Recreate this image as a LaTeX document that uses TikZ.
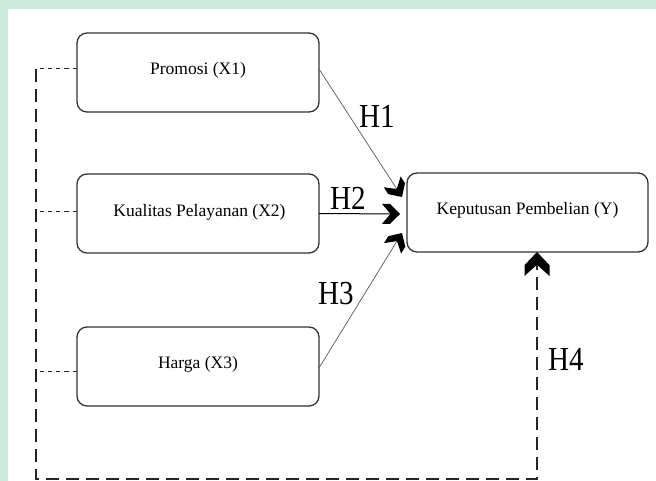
\documentclass[tikz,border=0pt]{standalone}
\usepackage{fontspec}
\setmainfont{Liberation Serif}
\usetikzlibrary{arrows.meta,calc}
\definecolor{mint}{HTML}{CDEBDD}
\pgfdeclarearrow{
  name = Chev,
  parameters = {\the\pgfarrowlength,\the\pgfarrowwidth},
  setup code = {
    \pgfarrowssettipend{0pt}
    \pgfarrowssetlineend{-.5\pgfarrowlength}
    \pgfarrowssetbackend{-\pgfarrowlength}
    \pgfarrowssavethe\pgfarrowlength
    \pgfarrowssavethe\pgfarrowwidth
  },
  drawing code = {
    \pgfpathmoveto{\pgfpoint{0pt}{0pt}}
    \pgfpathlineto{\pgfpoint{-.55\pgfarrowlength}{.5\pgfarrowwidth}}
    \pgfpathlineto{\pgfpoint{-\pgfarrowlength}{.5\pgfarrowwidth}}
    \pgfpathlineto{\pgfpoint{-.53\pgfarrowlength}{0pt}}
    \pgfpathlineto{\pgfpoint{-\pgfarrowlength}{-.5\pgfarrowwidth}}
    \pgfpathlineto{\pgfpoint{-.55\pgfarrowlength}{-.5\pgfarrowwidth}}
    \pgfpathclose
    \pgfusepathqfill
  },
  defaults = {length = 17pt, width = 19pt}
}
\begin{document}
\begin{tikzpicture}[x=1pt,y=-1pt,
  boxnode/.style={draw=black!80,line width=1.3pt,rounded corners=10pt,
    minimum width=242pt,minimum height=79pt,inner sep=0pt,outer sep=0pt},
  boxtext/.style={anchor=base,inner sep=0pt,font=\fontsize{17.5}{20}\selectfont},
  hlabel/.style={inner sep=0pt,font=\fontsize{30}{32}\selectfont},
  thinarrow/.style={draw=black!65,line width=0.7pt,-{Chev[length=18pt,width=20pt,color=black]}},
  shortdash/.style={draw=black!85,line width=1pt,dash pattern=on 4.3pt off 4pt},
  longdash/.style={draw=black!85,line width=1.6pt,dash pattern=on 13pt off 7pt}
]
\useasboundingbox (0,0) rectangle (656,481);
\fill[mint] (0,0) rectangle (656,481);
\fill[white] (8,9) rectangle (656,481);

% boxes
\node[boxnode] (x1) at (198,72.5) {};
\node[boxnode] (x2) at (198,213.5) {};
\node[boxnode] (x3) at (198,366.5) {};
\node[boxnode,minimum width=241pt] (y) at (527.5,212.5) {};

\node[boxtext] (t1) at (198,74.3) {Promosi (X1)};
\node[boxtext] (t2) at (199.5,216.3) {Kualitas Pelayanan (X2)};
\node[boxtext] (t3) at (198,368) {Harga (X3)};
\node[boxtext] (ty) at (527.5,215) {Keputusan Pembelian (Y)};

% arrow targets
\coordinate (e1) at ($(y.west)+(-5,-15.5)$);
\coordinate (e2) at ($(y.west)+(-7,1.5)$);
\coordinate (e3) at ($(y.west)+(-5,20.5)$);

\draw[thinarrow] ([yshift=3.5pt]x1.east) -- (e1);
\draw[thinarrow,draw=black,line width=1pt] (x2.east) -- (e2);
\draw[thinarrow] ([yshift=-1.5pt]x3.east) -- (e3);

% hypothesis labels
\node[hlabel] (h1) at (377,116.5) {\scalebox{0.97}[1.12]{H1}};
\node[hlabel] (h2) at (348,198.5) {\scalebox{0.97}[1.12]{H2}};
\node[hlabel] (h3) at (336,294) {\scalebox{0.97}[1.12]{H3}};
\node[hlabel] (h4) at (566,359) {\scalebox{0.97}[1.12]{H4}};

% dashed simultaneous path
\coordinate (tl) at (36,69);
\coordinate (bl) at (36,479);
\coordinate (br) at (537,479);
\draw[shortdash] ([yshift=3.5pt]x1.west) -- (tl);
\draw[shortdash] ([yshift=1.5pt]x2.west) -- ([yshift=1.5pt]x2.west -| tl);
\draw[shortdash] ([yshift=-4.5pt]x3.west) -- ([yshift=-4.5pt]x3.west -| tl);
\draw[longdash,-{Chev[length=24pt,width=25pt,color=black]}]
  (tl) -- (bl) -- (br) -- (br |- y.south);
\end{tikzpicture}
\end{document}
